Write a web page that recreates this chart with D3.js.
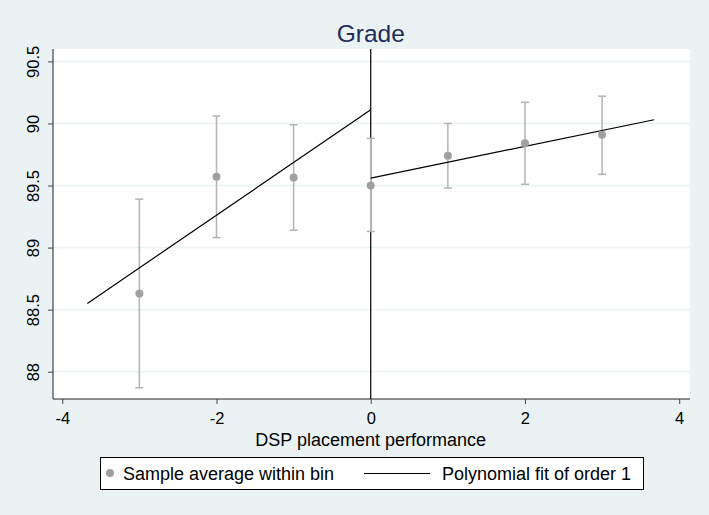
<!DOCTYPE html>
<html>
<head>
<meta charset="utf-8">
<script src="https://cdn.jsdelivr.net/npm/d3@7"></script>
<style>
  body { margin: 0; background: #eaf2f3; }
  svg { display: block; font-family: "Liberation Sans", Arial, sans-serif; }
</style>
</head>
<body>
<div id="chart"></div>
<script>
// bin averages with confidence intervals
const bins = [-3, -2, -1, 0, 1, 2, 3];
const means = [88.63, 89.57, 89.565, 89.50, 89.74, 89.84, 89.91];
const ciLow = [87.87, 89.08, 89.14, 89.13, 89.48, 89.51, 89.59];
const ciHigh = [89.39, 90.06, 89.99, 89.88, 90.00, 90.17, 90.22];

// linear fits on each side of the cutoff
const fitLeftX = [-3.675, 0];
const fitLeftY = [88.55, 90.11];
const fitRightX = [0, 3.675];
const fitRightY = [89.56, 90.03];

const xTicks = [-4, -2, 0, 2, 4];
const yTicks = [88, 88.5, 89, 89.5, 90, 90.5];

const svgWidth = 709;
const svgHeight = 515;

const margin = { top: 49, right: 19, bottom: 116, left: 53 };
const chartWidth = svgWidth - margin.left - margin.right;
const chartHeight = svgHeight - margin.top - margin.bottom;

const svg = d3.select("#chart")
    .append("svg")
    .attr("width", svgWidth)
    .attr("height", svgHeight);

svg.append("rect")
    .attr("width", svgWidth)
    .attr("height", svgHeight)
    .attr("fill", "#eaf2f3");

const chartGroup = svg.append("g")
    .attr("transform", `translate(${margin.left}, ${margin.top})`);

chartGroup.append("rect")
    .attr("width", chartWidth)
    .attr("height", chartHeight)
    .attr("fill", "#ffffff");

const x = d3.scaleLinear().domain([-4.12, 4.14]).range([0, chartWidth]);
const y = d3.scaleLinear().domain([87.78, 90.6]).range([chartHeight, 0]);

// grid lines
chartGroup.selectAll(".grid")
    .data(yTicks)
    .enter()
    .append("line")
    .attr("x1", 0)
    .attr("x2", chartWidth)
    .attr("y1", d => y(d))
    .attr("y2", d => y(d))
    .attr("stroke", "#eaf2f3")
    .attr("stroke-width", 1.5);

// axes
const bottomAxis = d3.axisBottom(x).tickValues(xTicks).tickSize(5).tickFormat(d3.format("d"));
const leftAxis = d3.axisLeft(y).tickValues(yTicks).tickSize(5).tickFormat(d => d);

const xAxis = chartGroup.append("g")
    .attr("transform", `translate(0, ${chartHeight})`)
    .call(bottomAxis);
xAxis.select(".domain").attr("d", `M0,0H${chartWidth}`).attr("stroke", "#222");
xAxis.selectAll(".tick line").attr("stroke", "#444");
xAxis.selectAll("text")
    .attr("font-size", 16.5)
    .attr("font-family", "Liberation Sans, Arial, sans-serif")
    .attr("fill", "#000")
    .attr("y", 7)
    .attr("dy", "1.1em")
    .text(d => d < 0 ? "-" + Math.abs(d) : d);

const yAxis = chartGroup.append("g").call(leftAxis);
yAxis.select(".domain").attr("d", `M0,0V${chartHeight}`).attr("stroke", "#222");
yAxis.selectAll(".tick line").attr("stroke", "#444");
yAxis.selectAll("text")
    .attr("font-size", 16.5)
    .attr("font-family", "Liberation Sans, Arial, sans-serif")
    .attr("fill", "#000")
    .attr("text-anchor", "middle")
    .attr("x", null)
    .attr("dy", null)
    .attr("transform", "translate(-14, 0) rotate(-90)");

// cutoff line
chartGroup.append("line")
    .attr("x1", x(0))
    .attr("x2", x(0))
    .attr("y1", 0)
    .attr("y2", chartHeight)
    .attr("stroke", "#000")
    .attr("stroke-width", 1.2);

// error bars
const barData = bins.map((b, i) => ({ x: b, m: means[i], lo: ciLow[i], hi: ciHigh[i] }));
const bars = chartGroup.selectAll(".ci")
    .data(barData)
    .enter()
    .append("g")
    .attr("stroke", "#b4b4b4")
    .attr("stroke-width", 1.5);

bars.append("line")
    .attr("x1", d => x(d.x)).attr("x2", d => x(d.x))
    .attr("y1", d => y(d.lo)).attr("y2", d => y(d.hi));
bars.append("line")
    .attr("x1", d => x(d.x) - 4).attr("x2", d => x(d.x) + 4)
    .attr("y1", d => y(d.lo)).attr("y2", d => y(d.lo));
bars.append("line")
    .attr("x1", d => x(d.x) - 4).attr("x2", d => x(d.x) + 4)
    .attr("y1", d => y(d.hi)).attr("y2", d => y(d.hi));

// fit lines
const line = d3.line().x(d => x(d[0])).y(d => y(d[1]));
[[fitLeftX, fitLeftY], [fitRightX, fitRightY]].forEach(([xs, ys]) => {
    chartGroup.append("path")
        .attr("d", line(xs.map((v, i) => [v, ys[i]])))
        .attr("fill", "none")
        .attr("stroke", "#000")
        .attr("stroke-width", 1.2);
});

// bin averages
chartGroup.selectAll(".pt")
    .data(barData)
    .enter()
    .append("circle")
    .attr("cx", d => x(d.x))
    .attr("cy", d => y(d.m))
    .attr("r", 4)
    .attr("fill", "#a0a0a0");

// title
svg.append("text")
    .attr("x", margin.left + x(0))
    .attr("y", 42)
    .attr("text-anchor", "middle")
    .attr("font-size", 24.5)
    .attr("fill", "#1e2d5c")
    .text("Grade");

// x axis title
svg.append("text")
    .attr("x", margin.left + x(0))
    .attr("y", 446)
    .attr("text-anchor", "middle")
    .attr("font-size", 18)
    .attr("fill", "#000")
    .text("DSP placement performance");

// legend
const legend = svg.append("g");
legend.append("rect")
    .attr("x", 100.5).attr("y", 457.5)
    .attr("width", 543).attr("height", 32)
    .attr("fill", "#ffffff")
    .attr("stroke", "#000")
    .attr("stroke-width", 1);
legend.append("circle")
    .attr("cx", 110).attr("cy", 473).attr("r", 4).attr("fill", "#a0a0a0");
legend.append("text")
    .attr("x", 123).attr("y", 480)
    .attr("font-size", 18)
    .text("Sample average within bin");
legend.append("line")
    .attr("x1", 364).attr("x2", 430)
    .attr("y1", 473.5).attr("y2", 473.5)
    .attr("stroke", "#000").attr("stroke-width", 1.2);
legend.append("text")
    .attr("x", 442).attr("y", 480)
    .attr("font-size", 18)
    .text("Polynomial fit of order 1");
</script>
</body>
</html>
